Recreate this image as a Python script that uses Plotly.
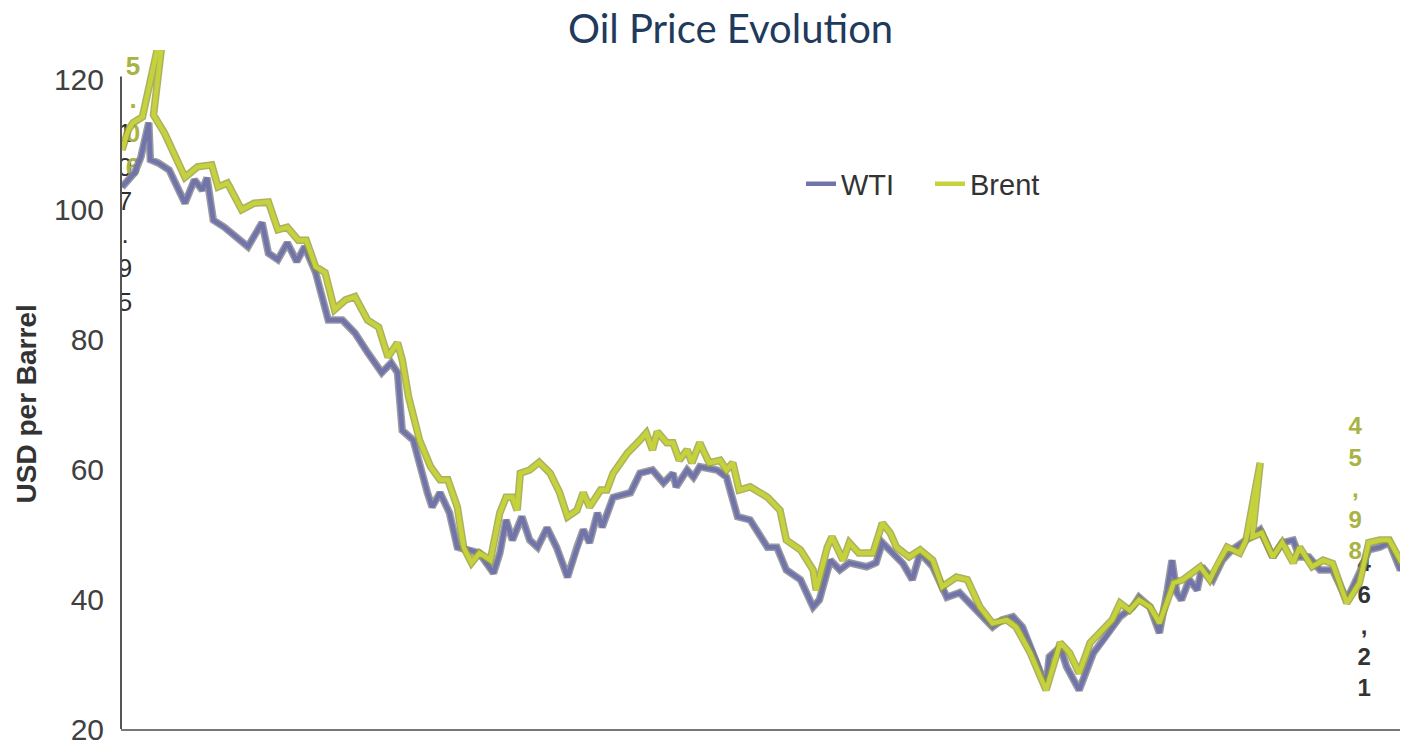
import pandas as pd
import plotly.graph_objects as go

# =====================================================
# Data (day offsets from the first point)
# =====================================================
START = pd.Timestamp("2014-06-20")

wti_days = [0, 8, 12, 17, 18, 23, 30, 40, 46, 51, 54, 58, 65, 72, 80, 89, 93, 99,
            105, 111, 116, 123, 131, 140, 148, 156, 165, 171, 175, 178, 185, 194,
            197, 202, 208, 213, 221, 227, 236, 240, 244, 248, 254, 259, 264, 270,
            276, 283, 289, 293, 297, 302, 305, 312, 323, 329, 337, 344, 350, 352,
            359, 363, 367, 378, 384, 391, 399, 410, 416, 422, 431, 439, 443, 450,
            456, 462, 473, 479, 483, 490, 496, 502, 507, 515, 524, 532, 543, 553,
            559, 566, 572, 581, 587, 589, 596, 600, 608, 617, 625, 634, 642, 646,
            653, 659, 664, 667, 670, 673, 678, 683, 686, 693, 699, 705, 714, 723,
            731, 737, 744, 748, 754, 761, 769, 778, 786, 792, 799, 805, 812, 815]
wti_usd = [103.5, 105.7, 108.1, 113.4, 107.7, 107.2, 106.1, 101.0, 104.6, 103.0,
           104.9, 98.4, 97.3, 95.8, 94.3, 98.0, 93.3, 92.3, 94.9, 92.0, 94.3, 90.3,
           83.0, 83.0, 81.0, 78.0, 74.9, 76.4, 74.9, 66.0, 64.5, 56.4, 54.2, 56.4,
           53.3, 48.0, 47.6, 47.1, 44.0, 47.1, 52.2, 49.1, 52.7, 49.1, 48.0, 51.0,
           48.0, 43.4, 48.0, 50.7, 48.7, 53.3, 51.1, 55.7, 56.4, 59.4, 59.9, 57.9,
           59.4, 57.3, 59.9, 58.8, 60.4, 59.9, 58.8, 52.7, 52.2, 48.0, 48.0, 44.5,
           43.0, 38.8, 39.9, 46.0, 44.5, 45.6, 45.0, 45.6, 48.7, 47.1, 45.5, 43.0,
           47.1, 45.0, 40.3, 41.0, 38.3, 35.7, 36.8, 37.3, 35.7, 30.6, 26.5, 31.1,
           32.6, 29.6, 26.0, 31.7, 34.2, 37.3, 38.8, 40.3, 38.8, 34.8, 41.4, 46.0,
           41.0, 39.9, 43.0, 41.4, 45.0, 43.0, 46.0, 47.6, 49.1, 50.7, 46.5, 48.7,
           49.1, 46.5, 46.5, 44.5, 44.5, 39.9, 44.0, 47.6, 48.0, 48.7, 44.5, 45.6]

brent_days = [0, 4, 7, 13, 28, 20, 27, 40, 48, 57, 61, 67, 76, 84, 93, 99, 105,
              112, 117, 123, 129, 135, 142, 148, 156, 163, 169, 175, 178, 182, 189,
              196, 202, 207, 213, 217, 222, 227, 234, 240, 244, 248, 251, 253, 259,
              265, 272, 278, 283, 289, 293, 297, 304, 308, 312, 321, 329, 333, 337,
              340, 346, 350, 354, 359, 362, 367, 373, 380, 384, 388, 392, 399, 410,
              418, 422, 431, 439, 441, 448, 451, 458, 462, 468, 477, 483, 488, 492,
              500, 507, 515, 521, 530, 537, 545, 553, 562, 568, 577, 587, 596, 602,
              608, 615, 621, 629, 634, 640, 646, 653, 659, 664, 668, 674, 680, 685,
              691, 695, 702, 710, 714, 723, 718, 724, 731, 737, 744, 748, 756, 763,
              769, 778, 786, 792, 799, 805, 812, 815]
brent_usd = [109.2, 112.3, 113.4, 114.3, 130.9, 114.6, 111.8, 105.0, 106.6, 106.9,
             103.5, 104.1, 100.0, 101.0, 101.2, 96.9, 97.3, 95.3, 95.3, 91.2, 90.3,
             84.6, 86.1, 86.6, 83.0, 81.9, 77.3, 79.5, 76.9, 71.2, 64.5, 60.4, 58.4,
             58.4, 54.2, 48.0, 45.6, 47.1, 46.0, 53.3, 55.7, 55.7, 53.7, 59.4, 59.9,
             61.1, 59.4, 56.4, 52.7, 53.7, 56.4, 54.2, 56.8, 56.8, 59.4, 62.5, 64.5,
             65.6, 63.0, 65.8, 64.1, 64.1, 61.4, 63.0, 61.0, 64.1, 61.0, 61.4, 59.9,
             61.0, 56.8, 57.3, 55.7, 53.7, 49.1, 47.6, 44.5, 41.4, 48.0, 49.6, 46.0,
             48.7, 47.1, 47.1, 51.7, 50.2, 48.0, 46.5, 47.6, 46.0, 41.9, 43.4, 43.0,
             38.8, 36.3, 36.8, 35.7, 31.7, 26.0, 33.3, 31.7, 28.6, 33.3, 34.8, 36.8,
             39.4, 38.3, 39.9, 38.8, 36.3, 39.9, 42.5, 43.0, 44.0, 45.0, 43.0, 45.0,
             48.0, 47.1, 49.1, 61.0, 49.6, 50.2, 46.5, 48.7, 45.6, 48.0, 45.0, 46.0,
             45.5, 39.4, 42.5, 48.7, 49.1, 49.1, 46.0, 46.5]

y_ticks = [20, 40, 60, 80, 100, 120]

# point labels, stacked one character per line as in the source chart
wti_first_label = "107.95"
brent_first_label = "115.06"
brent_last_label = "45,98"
wti_last_label = "46,21"

wti_dates = [START + pd.Timedelta(days=d) for d in wti_days]
brent_dates = [START + pd.Timedelta(days=d) for d in brent_days]

WTI_CORE = "#7074ab"
WTI_EDGE = "rgba(120,120,130,0.75)"
BRENT_CORE = "#c6d23c"
BRENT_EDGE = "rgba(150,158,60,0.8)"
TEXT = "#3c3c3c"
FONT = "Liberation Sans, Arial, sans-serif"

# the page body adds an 8px offset, so the figure is sized to end at the window edge
W, H = 1400, 741
ML, MT, MB = 113, 42, 20
PLOT_W = W - ML
PLOT_H = H - MT - MB


def stacked(label):
    return "<br>".join(label)


fig = go.Figure()

# labels first so the lines sit on top of them
fig.add_trace(go.Scatter(
    x=[START + pd.Timedelta(days=1.9)], y=[98.4], mode="text",
    text=[stacked(wti_first_label)], textposition="middle center",
    textfont=dict(family=FONT, size=26, color="#2e2e2e"),
    showlegend=False, hoverinfo="skip"))
fig.add_trace(go.Scatter(
    x=[START + pd.Timedelta(days=7)], y=[119.2], mode="text",
    text=[stacked(brent_first_label)], textposition="middle center",
    textfont=dict(family=FONT, size=26, color="#a9b345", weight="bold"),
    showlegend=False, hoverinfo="skip"))
fig.add_trace(go.Scatter(
    x=[START + pd.Timedelta(days=783.4)], y=[56.7], mode="text",
    text=[stacked(brent_last_label)], textposition="middle center",
    textfont=dict(family=FONT, size=24, color="#a9b345", weight="bold"),
    showlegend=False, hoverinfo="skip"))
fig.add_trace(go.Scatter(
    x=[START + pd.Timedelta(days=789)], y=[35.6], mode="text",
    text=[stacked(wti_last_label)], textposition="middle center",
    textfont=dict(family=FONT, size=24, color="#333333", weight="bold"),
    showlegend=False, hoverinfo="skip"))

# WTI (halo + core)
fig.add_trace(go.Scatter(x=wti_dates, y=wti_usd, mode="lines",
                         line=dict(color=WTI_EDGE, width=7.5),
                         showlegend=False, hoverinfo="skip"))
fig.add_trace(go.Scatter(x=wti_dates, y=wti_usd, mode="lines", name="WTI",
                         line=dict(color=WTI_CORE, width=4.5)))
# Brent (halo + core)
fig.add_trace(go.Scatter(x=brent_dates, y=brent_usd, mode="lines",
                         line=dict(color=BRENT_EDGE, width=7.5),
                         showlegend=False, hoverinfo="skip"))
fig.add_trace(go.Scatter(x=brent_dates, y=brent_usd, mode="lines", name="Brent",
                         line=dict(color=BRENT_CORE, width=4.5)))

x_lo = START + pd.Timedelta(days=-0.64)
x_hi = START + pd.Timedelta(days=816.9)

fig.update_layout(
    width=W, height=H,
    margin=dict(l=ML, r=0, t=MT, b=MB, autoexpand=False),
    paper_bgcolor="white", plot_bgcolor="white",
    font=dict(family=FONT, color=TEXT),
    legend=dict(orientation="h", x=(801 - 121) / PLOT_W, y=(729 - 184) / PLOT_H,
                xanchor="left", yanchor="middle",
                font=dict(size=29, color="#333333"), bgcolor="rgba(0,0,0,0)",
                itemwidth=30, traceorder="normal",
                entrywidth=84, entrywidthmode="pixels"),
    xaxis=dict(range=[x_lo, x_hi], showgrid=False, zeroline=False,
               showticklabels=False, ticks="", showline=True,
               linecolor="#777777", linewidth=2),
    yaxis=dict(range=[20, 124.6], tickvals=y_ticks, showgrid=False, zeroline=False,
               ticks="", showline=False, ticklabelstandoff=16,
               tickfont=dict(size=30, color="#404040")),
    annotations=[
        dict(text="Oil Price Evolution", xref="paper", yref="paper",
             x=(730 - 121) / PLOT_W, y=1 + 22 / PLOT_H, xanchor="center",
             yanchor="middle", showarrow=False,
             font=dict(family="Lato, Open Sans, sans-serif", size=40, color="#1f3a5c")),
        dict(text="<b>USD per Barrel</b>", xref="paper", yref="y",
             x=-95 / PLOT_W, y=70, textangle=-90, xanchor="center", yanchor="middle",
             showarrow=False, font=dict(size=28, color="#333333")),
    ],
    shapes=[
        dict(type="line", xref="paper", yref="y", x0=0, x1=0, y0=20, y1=120.5,
             line=dict(color="#555555", width=2)),
    ],
)

fig.write_html("out.html")
